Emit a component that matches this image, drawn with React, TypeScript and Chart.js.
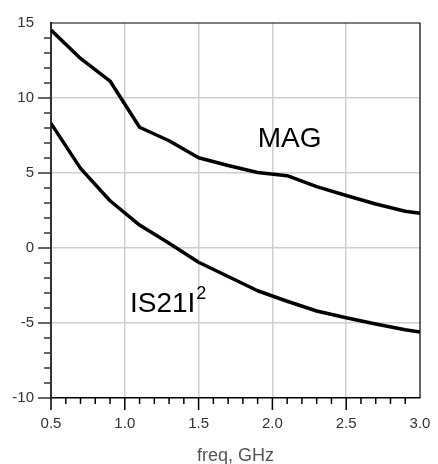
import React, { useEffect, useRef } from "react";
import { Chart, registerables } from "chart.js";

Chart.register(...registerables);

const freqs = [0.5, 0.7, 0.9, 1.1, 1.3, 1.5, 1.7, 1.9, 2.1, 2.3, 2.5, 2.7, 2.9, 3.0];
const magValues = [14.53, 12.64, 11.13, 8.05, 7.15, 6.02, 5.5, 5.03, 4.82, 4.09, 3.5, 2.93, 2.45, 2.31];
const s21Values = [8.31, 5.31, 3.15, 1.53, 0.31, -0.95, -1.9, -2.85, -3.55, -4.2, -4.65, -5.07, -5.45, -5.6];

const xMin = 0.5;
const xMax = 3.0;
const yMin = -10;
const yMax = 15;
const xTitle = "freq, GHz";
const magLabel = "MAG";
const s21Label = "IS21I";
const s21Sup = "2";
const magLabelPos = { x: 1.9, y: 6.73 };
const s21LabelPos = { x: 1.035, y: -4.27 };

const FONT = "'Liberation Sans', Arial, Helvetica, sans-serif";

const decorPlugin = {
  id: "decor",
  afterDraw(chart: any) {
    const { ctx, chartArea: a, scales } = chart;
    const xs = scales.x;
    const ys = scales.y;
    ctx.save();
    // top / right frame
    ctx.strokeStyle = "#000";
    ctx.lineWidth = 1.2;
    ctx.beginPath();
    ctx.moveTo(a.left, a.top);
    ctx.lineTo(a.right, a.top);
    ctx.lineTo(a.right, a.bottom);
    ctx.stroke();
    // y ticks
    ctx.strokeStyle = "#333";
    ctx.lineWidth = 1.5;
    for (let v = yMin; v < yMax; v += 1) {
      const py = ys.getPixelForValue(v);
      const len = v % 5 === 0 ? 13 : 7;
      ctx.beginPath();
      ctx.moveTo(a.left - len, py);
      ctx.lineTo(a.left, py);
      ctx.stroke();
    }
    // x ticks
    ctx.strokeStyle = "#000";
    for (let i = Math.round(xMin * 10); i < Math.round(xMax * 10); i++) {
      const px = xs.getPixelForValue(i / 10);
      const len = i % 5 === 0 ? 12 : 6;
      ctx.beginPath();
      ctx.moveTo(px, a.bottom);
      ctx.lineTo(px, a.bottom + len);
      ctx.stroke();
    }
    // curve labels
    ctx.fillStyle = "#000";
    ctx.textBaseline = "alphabetic";
    ctx.textAlign = "left";
    ctx.font = `28px ${FONT}`;
    ctx.fillText(magLabel, xs.getPixelForValue(magLabelPos.x), ys.getPixelForValue(magLabelPos.y));
    const sx = xs.getPixelForValue(s21LabelPos.x);
    const sy = ys.getPixelForValue(s21LabelPos.y);
    ctx.fillText(s21Label, sx, sy);
    const w = ctx.measureText(s21Label).width;
    ctx.font = `18px ${FONT}`;
    ctx.fillText(s21Sup, sx + w + 1, sy - 13);
    ctx.restore();
  },
};

export default function App() {
  const ref = useRef<HTMLCanvasElement | null>(null);

  useEffect(() => {
    if (!ref.current) return;
    const gridColor = (c: any) => {
      const v = c.tick && c.tick.value;
      const s = c.scale;
      if (v === s.min || v === s.max) return "rgba(0,0,0,0)";
      return "#cfcfcf";
    };
    const chart = new Chart(ref.current, {
      type: "line",
      data: {
        datasets: [
          {
            label: magLabel,
            data: freqs.map((f, i) => ({ x: f, y: magValues[i] })),
            borderColor: "#000",
            borderWidth: 3.5,
            pointRadius: 0,
            tension: 0,
            borderJoinStyle: "round",
          },
          {
            label: s21Label,
            data: freqs.map((f, i) => ({ x: f, y: s21Values[i] })),
            borderColor: "#000",
            borderWidth: 3.5,
            pointRadius: 0,
            tension: 0,
            borderJoinStyle: "round",
          },
        ],
      },
      options: {
        responsive: false,
        animation: false,
        devicePixelRatio: 1,
        layout: { padding: { top: 23, right: 18, left: 0, bottom: 0 } },
        plugins: { legend: { display: false }, tooltip: { enabled: false } },
        scales: {
          x: {
            type: "linear",
            min: xMin,
            max: xMax,
            afterFit: (s: any) => {
              s.height = 66;
              s.paddingLeft = 0;
              s.paddingRight = 0;
            },
            ticks: {
              stepSize: 0.5,
              color: "#333",
              font: { family: FONT, size: 15 },
              padding: 17,
              maxRotation: 0,
              callback: (v: any) => Number(v).toFixed(1),
            },
            grid: { color: gridColor, lineWidth: 1.5, drawTicks: false },
            border: { color: "#000", width: 1.5 },
            title: {
              display: true,
              text: xTitle,
              color: "#555",
              font: { family: FONT, size: 18 },
              padding: { top: 0, bottom: -3 },
            },
          },
          y: {
            type: "linear",
            min: yMin,
            max: yMax,
            afterFit: (s: any) => {
              s.width = 51;
              s.paddingTop = 0;
              s.paddingBottom = 0;
            },
            ticks: {
              stepSize: 5,
              color: "#333",
              font: { family: FONT, size: 15 },
              padding: 17,
            },
            grid: { color: gridColor, lineWidth: 1.5, drawTicks: false },
            border: { color: "#333", width: 2 },
          },
        },
      },
      plugins: [decorPlugin],
    } as any);
    return () => chart.destroy();
  }, []);

  return (
    <div style={{ position: "absolute", left: 0, top: 0, width: 438, height: 464, background: "#fff" }}>
      <canvas ref={ref} width={438} height={464} style={{ display: "block" }} />
    </div>
  );
}
